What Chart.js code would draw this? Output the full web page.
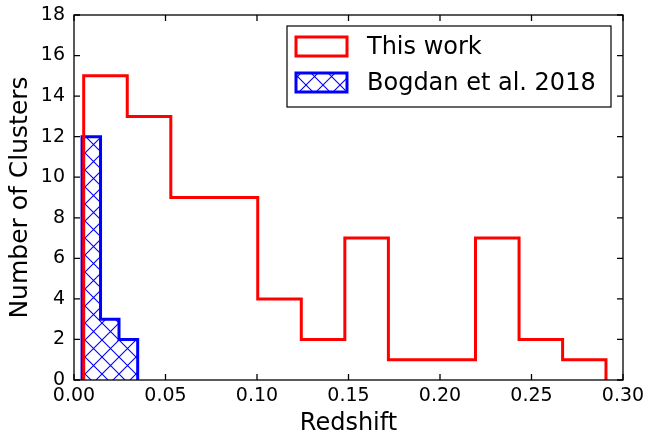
<!DOCTYPE html>
<html>
<head>
<meta charset="utf-8">
<script src="https://cdn.jsdelivr.net/npm/chart.js@4.4.1/dist/chart.umd.min.js"></script>
<style>
  html, body { margin: 0; padding: 0; background: #fff; }
  #wrap { width: 646px; height: 436px; }
</style>
</head>
<body>
<div id="wrap"><canvas id="hist" width="646" height="436"></canvas></div>
<script>
// bin edges and counts of the two redshift histograms
const redEdges = [0.0053, 0.0291, 0.0529, 0.0767, 0.1004, 0.1242, 0.1480, 0.1718, 0.1956, 0.2194, 0.2432, 0.2670, 0.2907];
const redCounts = [15, 13, 9, 9, 4, 2, 7, 1, 1, 7, 2, 1];
const blueEdges = [0.0044, 0.0145, 0.0246, 0.0348];
const blueCounts = [12, 3, 2];

const seriesNames = ['This work', 'Bogdan et al. 2018'];
const xTicks = [0, 0.05, 0.10, 0.15, 0.20, 0.25, 0.30];
const yTicks = [0, 2, 4, 6, 8, 10, 12, 14, 16, 18];

const FONT = "'DejaVu Sans', sans-serif";

// step outline of a histogram
function histPoints(edges, counts) {
    const pts = [{ x: edges[0], y: 0 }];
    counts.forEach((c, i) => {
        pts.push({ x: edges[i], y: c });
        pts.push({ x: edges[i + 1], y: c });
    });
    pts.push({ x: edges[edges.length - 1], y: 0 });
    return pts;
}

// cross hatch like matplotlib 'x'
function makeHatch() {
    const s = 17;
    const c = document.createElement('canvas');
    c.width = s; c.height = s;
    const g = c.getContext('2d');
    g.strokeStyle = '#0000ff';
    g.lineWidth = 1.1;
    g.beginPath();
    for (let k = -1; k <= 1; k++) {
        g.moveTo(k * s, 0); g.lineTo(k * s + s, s);
        g.moveTo(k * s, s); g.lineTo(k * s + s, 0);
    }
    g.stroke();
    return g.createPattern(c, 'repeat');
}

const ctx = document.getElementById('hist').getContext('2d');
const hatch = makeHatch();

// frame and inward ticks on all four sides
const frameTicks = {
    id: 'frameTicks',
    afterDatasetsDraw(chart) {
        const { ctx, chartArea: a, scales } = chart;
        const len = 6;
        ctx.save();
        ctx.strokeStyle = '#000';
        ctx.lineWidth = 1.3;
        ctx.beginPath();
        xTicks.forEach(v => {
            const px = scales.x.getPixelForValue(v);
            ctx.moveTo(px, a.bottom); ctx.lineTo(px, a.bottom - len);
            ctx.moveTo(px, a.top); ctx.lineTo(px, a.top + len);
        });
        yTicks.forEach(v => {
            const py = scales.y.getPixelForValue(v);
            ctx.moveTo(a.left, py); ctx.lineTo(a.left + len, py);
            ctx.moveTo(a.right, py); ctx.lineTo(a.right - len, py);
        });
        ctx.stroke();
        ctx.strokeRect(a.left, a.top, a.right - a.left, a.bottom - a.top);
        ctx.restore();
    }
};

// legend box in the upper right
const boxLegend = {
    id: 'boxLegend',
    afterDraw(chart) {
        const { ctx } = chart;
        const bx = 287, by = 26, bw = 324, bh = 81;
        ctx.save();
        ctx.fillStyle = '#fff';
        ctx.fillRect(bx, by, bw, bh);
        ctx.strokeStyle = '#000';
        ctx.lineWidth = 1.2;
        ctx.strokeRect(bx, by, bw, bh);
        chart.data.datasets.forEach((ds, i) => {
            const ry = by + 11 + i * 36;
            if (ds.fill) {
                ctx.fillStyle = ds.backgroundColor;
                ctx.fillRect(296, ry, 51, 19);
            }
            ctx.strokeStyle = ds.borderColor;
            ctx.lineWidth = 3;
            ctx.strokeRect(296, ry, 51, 19);
            ctx.fillStyle = '#000';
            ctx.font = '24px ' + FONT;
            ctx.textBaseline = 'middle';
            ctx.fillText(ds.label, 367, ry + 11);
        });
        ctx.restore();
    }
};

new Chart(ctx, {
    type: 'line',
    data: {
        datasets: [{
            label: seriesNames[0],
            data: histPoints(redEdges, redCounts),
            borderColor: '#ff0000',
            borderWidth: 3,
            pointRadius: 0,
            fill: false,
            tension: 0
        }, {
            label: seriesNames[1],
            data: histPoints(blueEdges, blueCounts),
            borderColor: '#0000ff',
            backgroundColor: hatch,
            borderWidth: 3,
            pointRadius: 0,
            fill: 'origin',
            tension: 0
        }]
    },
    options: {
        responsive: false,
        animation: false,
        layout: { padding: { top: 15, right: 23, left: 0, bottom: 0 } },
        plugins: {
            legend: { display: false },
            tooltip: { enabled: false }
        },
        scales: {
            x: {
                type: 'linear',
                min: 0,
                max: 0.30,
                afterFit: s => { s.height = 56; s.paddingLeft = 0; s.paddingRight = 0; },
                afterBuildTicks: s => { s.ticks = xTicks.map(v => ({ value: v })); },
                grid: { display: false, drawTicks: false },
                border: { display: false },
                ticks: {
                    padding: 5,
                    color: '#000',
                    font: { family: FONT, size: 19 },
                    maxRotation: 0,
                    callback: v => Number(v).toFixed(2)
                },
                title: {
                    display: true,
                    text: 'Redshift',
                    color: '#000',
                    font: { family: FONT, size: 24, lineHeight: 1 },
                    padding: { top: 0, bottom: 0 }
                }
            },
            y: {
                min: 0,
                max: 18,
                afterFit: s => { s.width = 74; s.paddingTop = 0; s.paddingBottom = 0; },
                afterBuildTicks: s => { s.ticks = yTicks.map(v => ({ value: v })); },
                grid: { display: false, drawTicks: false },
                border: { display: false },
                ticks: {
                    padding: 9,
                    color: '#000',
                    font: { family: FONT, size: 19 }
                },
                title: {
                    display: true,
                    text: 'Number of Clusters',
                    color: '#000',
                    font: { family: FONT, size: 25, lineHeight: 1 },
                    padding: { top: 8, bottom: 0 }
                }
            }
        }
    },
    plugins: [frameTicks, boxLegend]
});
</script>
</body>
</html>
